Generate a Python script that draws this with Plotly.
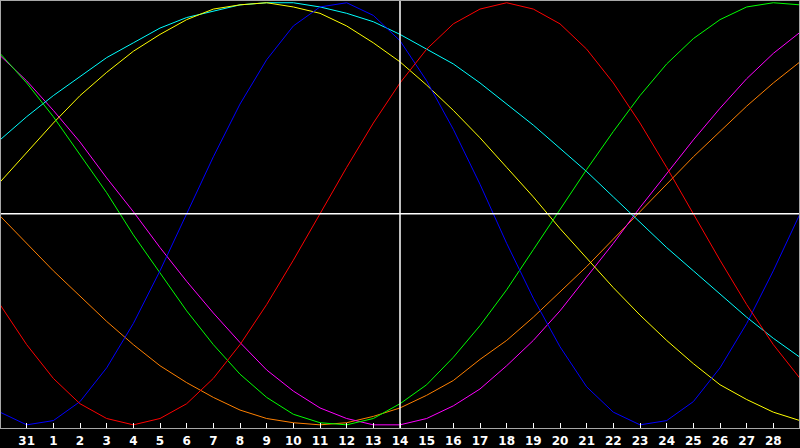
import plotly.graph_objects as go

# day positions (index) and labels
day_index = list(range(-1, 30))
tick_index = list(range(0, 29))
tick_labels = ["31"] + [str(d) for d in range(1, 29)]

# curve values (percent) read at each day, index -1 .. 29
blue = [-94, -100, -98, -89, -73, -52, -27, 0, 27, 52, 73, 89, 98, 100, 94, 82,
        63, 40, 14, -14, -40, -63, -82, -94, -100, -98, -89, -73, -52, -27, 0]
red = [-43, -62, -78, -90, -97, -100, -97, -90, -78, -62, -43, -22, 0, 22, 43, 62,
       78, 90, 97, 100, 97, 90, 78, 62, 43, 22, 0, -22, -43, -62, -78]
green = [76, 62, 46, 28, 10, -10, -28, -46, -62, -76, -87, -95, -99, -100, -97, -90,
         -81, -68, -53, -36, -17, 2, 21, 39, 56, 71, 83, 92, 98, 100, 99]
magenta = [75, 63, 49, 34, 17, 1, -16, -32, -47, -61, -74, -84, -92, -97, -100, -100,
           -97, -91, -83, -72, -60, -46, -30, -14, 3, 19, 35, 50, 64, 76, 86]
orange = [-1, -14, -27, -39, -51, -62, -72, -80, -87, -93, -97, -99, -100, -99, -96, -92,
          -86, -79, -69, -60, -49, -37, -25, -12, 1, 14, 27, 39, 51, 62, 72]
cyan = [35, 46, 56, 65, 74, 81, 88, 93, 96, 99, 100, 100, 98, 95, 91, 85,
        78, 71, 62, 52, 42, 31, 20, 8, -4, -16, -27, -38, -49, -59, -68]
yellow = [15, 29, 43, 56, 67, 77, 85, 92, 97, 99, 100, 98, 95, 89, 81, 72,
          61, 49, 36, 22, 8, -7, -21, -35, -48, -60, -71, -81, -88, -94, -98]

series = [
    ("orange", orange, "#ff8000"),
    ("magenta", magenta, "#ff00ff"),
    ("cyan", cyan, "#00ffff"),
    ("yellow", yellow, "#ffff00"),
    ("green", green, "#00ff00"),
    ("blue", blue, "#0000ff"),
    ("red", red, "#ff0000"),
]

fig = go.Figure()
for name, vals, col in series:
    fig.add_trace(go.Scatter(x=day_index, y=vals, mode="lines", name=name,
                             line=dict(color=col, width=1), hoverinfo="skip"))

border = "#a8a8a8"
fig.update_layout(
    width=800, height=448,
    paper_bgcolor="#000000", plot_bgcolor="#000000",
    margin=dict(l=0, r=0, t=0, b=20),
    showlegend=False,
    xaxis=dict(range=[-1, 29], tickvals=tick_index, ticktext=tick_labels,
               ticks="inside", ticklen=5, tickcolor="#ffffff", tickwidth=1,
               showgrid=False, zeroline=False, showline=True, linecolor=border,
               linewidth=1, ticklabelstandoff=2,
               tickfont=dict(family="DejaVu Sans", size=12, color="#ffffff",
                             weight="bold")),
    yaxis=dict(range=[-101.5, 101.3], showticklabels=False, ticks="",
               showgrid=False, zeroline=False, showline=False),
    shapes=[
        dict(type="line", xref="x", yref="y", x0=-1, x1=29, y0=0, y1=0,
             line=dict(color="#ffffff", width=1.5), layer="above"),
        dict(type="line", xref="x", yref="y", x0=14, x1=14, y0=-101.5, y1=101.3,
             line=dict(color="#ffffff", width=1.5), layer="above"),
        dict(type="line", xref="paper", yref="paper", x0=0, x1=1, y0=1, y1=1,
             line=dict(color=border, width=2), layer="above"),
        dict(type="line", xref="paper", yref="paper", x0=0, x1=0, y0=0, y1=1,
             line=dict(color=border, width=2), layer="above"),
        dict(type="line", xref="paper", yref="paper", x0=1, x1=1, y0=0, y1=1,
             line=dict(color=border, width=2), layer="above"),
    ],
)

fig.write_html(
    "out.html",
    config={"displayModeBar": False, "staticPlot": True},
    post_script="document.body.style.margin='0';document.body.style.overflow='hidden';",
)
